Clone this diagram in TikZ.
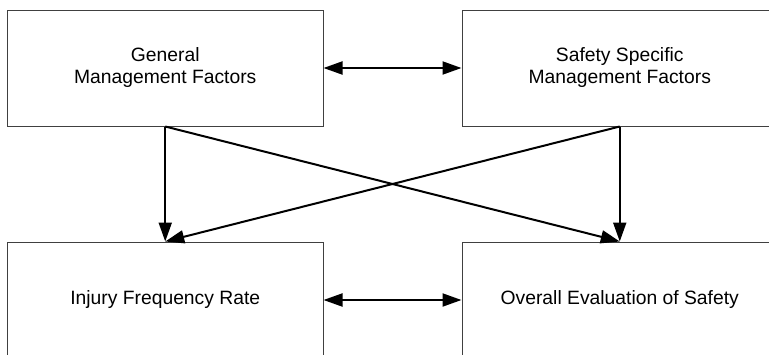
\documentclass[tikz,border=0pt]{standalone}
\usepackage{fontspec}
\setmainfont{Liberation Sans}
\usetikzlibrary{arrows.meta}
\begin{document}
\begin{tikzpicture}[x=1pt,y=-1pt,
  box/.style={draw=black!75, line width=1pt, rectangle, minimum width=315.5pt, minimum height=116pt,
    inner sep=0pt, align=center, font=\fontsize{19.3pt}{22pt}\selectfont},
  conn/.style={line width=2pt, -{Triangle[length=19pt,width=13pt]}},
  both/.style={line width=2pt, {Triangle[length=19pt,width=13pt]}-{Triangle[length=19pt,width=13pt]}}]
\path[use as bounding box] (0,0) rectangle (769,354);
\begin{scope}
\clip (0,0) rectangle (769,354);
\node[box] (gm) at (165.25,68) {General\\Management Factors};
\node[box] (ss) at (619.75,68) {Safety Specific\\Management Factors};
\node[box] (ifr) at (165.25,300) {Injury Frequency Rate};
\node[box] (ev) at (619.75,300) {Overall Evaluation of Safety};
\draw[both] (gm.east) -- (ss.west);
\draw[both] (ifr.east) -- (ev.west);
\draw[conn] (gm.south) -- (ifr.north);
\draw[conn] (ss.south) -- (ev.north);
\draw[conn] (gm.south) -- (ev.north);
\draw[conn] (ss.south) -- (ifr.north);
\end{scope}
\end{tikzpicture}
\end{document}
